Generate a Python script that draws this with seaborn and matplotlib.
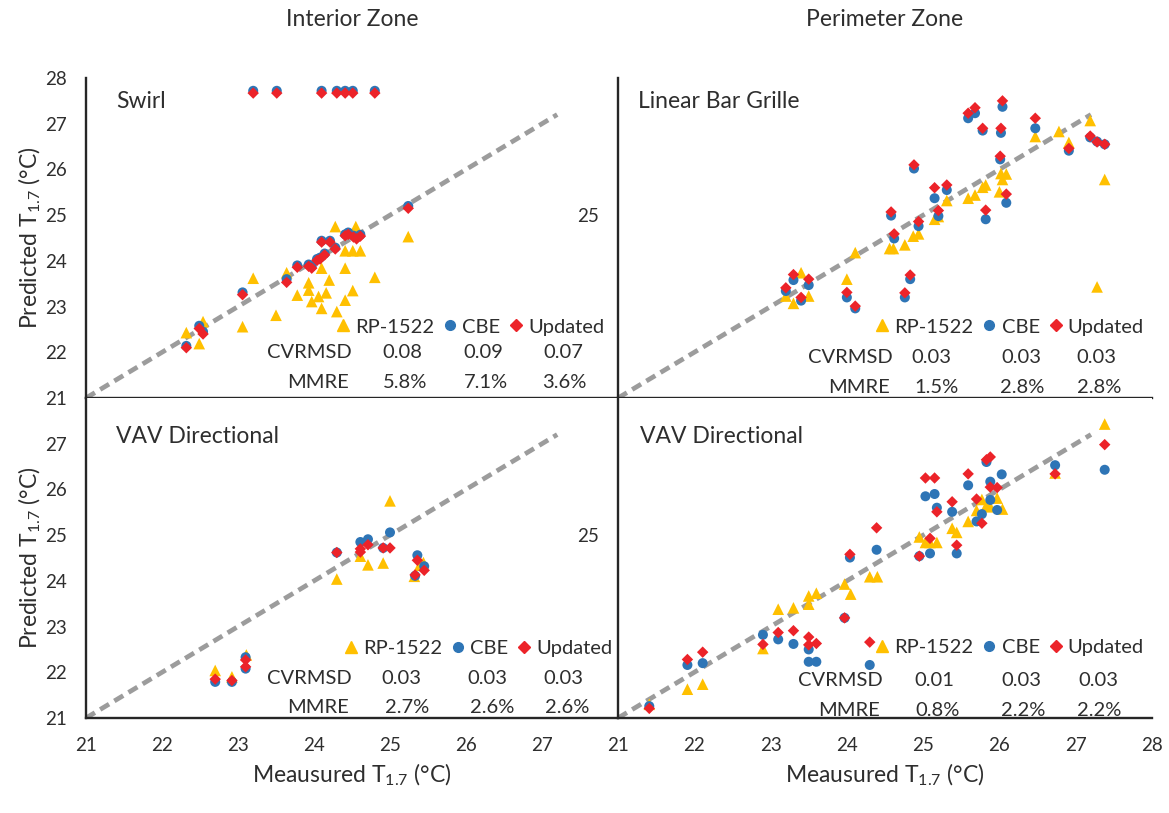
import matplotlib
matplotlib.use("Agg")
import matplotlib.pyplot as plt
from matplotlib.lines import Line2D
import pandas as pd
import seaborn as sns

# ---- values (measured vs predicted T1.7, degC) ----
series = ["RP-1522", "CBE", "Updated"]
axis_ticks = [21, 22, 23, 24, 25, 26, 27, 28]
ref_line = [21, 27.2]

# Interior zone - Swirl
swirl_rp_x = [22.32, 22.54, 22.49, 23.06, 23.20, 23.50, 23.64, 23.78, 23.93, 23.93, 23.97, 24.06, 24.10, 24.16,
              24.10, 24.20, 24.30, 24.28, 24.41, 24.41, 24.51, 24.55, 24.41, 24.51, 24.61, 24.80, 25.24]
swirl_rp_y = [22.43, 22.67, 22.19, 22.56, 23.62, 22.81, 23.74, 23.25, 23.52, 23.36, 23.11, 23.22, 22.96, 23.30,
              23.84, 23.58, 22.89, 24.75, 23.84, 23.14, 23.35, 24.75, 24.22, 24.22, 24.22, 23.64, 24.53]
swirl_cbe_x = [23.20, 23.51, 24.10, 24.30, 24.41, 24.51, 24.80, 22.32, 22.49, 22.54, 23.06, 23.64, 23.78, 23.93,
               23.97, 24.04, 24.08, 24.14, 24.28, 24.10, 24.21, 24.41, 24.45, 24.52, 24.56, 24.61, 25.24]
swirl_cbe_y = [27.72, 27.72, 27.72, 27.72, 27.72, 27.72, 27.72, 22.14, 22.58, 22.45, 23.31, 23.60, 23.90, 23.92,
               23.88, 24.04, 24.07, 24.16, 24.29, 24.44, 24.44, 24.58, 24.62, 24.55, 24.51, 24.57, 25.20]
swirl_upd_x = [23.20, 23.51, 24.10, 24.30, 24.41, 24.51, 24.80, 22.32, 22.49, 22.54, 23.06, 23.64, 23.78, 23.93,
               23.97, 24.04, 24.08, 24.14, 24.28, 24.10, 24.21, 24.41, 24.45, 24.52, 24.56, 24.61, 25.24]
swirl_upd_y = [27.67, 27.67, 27.67, 27.67, 27.67, 27.67, 27.67, 22.10, 22.52, 22.40, 23.26, 23.53, 23.86, 23.88,
               23.84, 24.01, 24.04, 24.13, 24.26, 24.41, 24.41, 24.55, 24.58, 24.52, 24.48, 24.54, 25.15]

# Perimeter zone - Linear Bar Grille
grille_rp_x = [23.20, 23.30, 23.40, 23.50, 24.00, 24.11, 24.56, 24.61, 24.76, 24.87, 24.94, 25.15, 25.20, 25.31,
               25.59, 25.68, 25.78, 25.82, 26.00, 26.02, 26.04, 26.09, 26.47, 26.78, 26.91, 27.19, 27.28, 27.38]
grille_rp_y = [23.23, 23.07, 23.74, 23.23, 23.60, 24.18, 24.27, 24.27, 24.35, 24.54, 24.59, 24.91, 24.97, 25.32,
               25.37, 25.44, 25.61, 25.66, 25.51, 25.91, 25.78, 25.90, 26.72, 26.83, 26.59, 27.07, 23.43, 25.78]
grille_cbe_x = [23.20, 23.30, 23.40, 23.50, 24.00, 24.11, 24.58, 24.62, 24.76, 24.83, 24.88, 24.94, 25.15, 25.20,
                25.31, 25.59, 25.68, 25.78, 25.82, 26.02, 26.04, 26.01, 26.09, 26.47, 26.91, 27.19, 27.28, 27.38]
grille_cbe_y = [23.34, 23.58, 23.13, 23.47, 23.20, 22.96, 24.99, 24.49, 23.20, 23.60, 26.02, 24.76, 25.37, 24.98,
                25.55, 27.12, 27.23, 26.85, 24.91, 26.80, 27.37, 26.22, 25.27, 26.90, 26.41, 26.70, 26.61, 26.55]
grille_upd_x = [23.20, 23.30, 23.40, 23.50, 24.00, 24.11, 24.58, 24.62, 24.76, 24.83, 24.88, 24.94, 25.15, 25.20,
                25.31, 25.59, 25.68, 25.78, 25.82, 26.02, 26.04, 26.01, 26.09, 26.47, 26.91, 27.19, 27.28, 27.38]
grille_upd_y = [23.41, 23.70, 23.20, 23.60, 23.31, 23.01, 25.07, 24.59, 23.30, 23.69, 26.10, 24.86, 25.60, 25.10,
                25.66, 27.23, 27.35, 26.90, 25.11, 26.90, 27.50, 26.29, 25.46, 27.12, 26.46, 26.73, 26.60, 26.55]

# Interior zone - VAV Directional
vavin_rp_x = [22.70, 22.92, 23.11, 24.30, 24.61, 24.71, 24.91, 25.00, 25.32, 25.39, 25.44]
vavin_rp_y = [22.04, 21.90, 22.38, 24.04, 24.54, 24.35, 24.39, 25.75, 24.10, 24.34, 24.40]
vavin_cbe_x = [22.70, 22.92, 23.10, 23.10, 24.30, 24.61, 24.71, 24.91, 25.00, 25.36, 25.33, 25.45]
vavin_cbe_y = [21.79, 21.79, 22.08, 22.33, 24.62, 24.85, 24.91, 24.72, 25.06, 24.56, 24.11, 24.32]
vavin_upd_x = [22.70, 22.92, 23.10, 23.10, 24.30, 24.61, 24.61, 24.71, 24.91, 25.00, 25.36, 25.33, 25.45]
vavin_upd_y = [21.85, 21.82, 22.12, 22.27, 24.62, 24.63, 24.70, 24.79, 24.72, 24.72, 24.45, 24.13, 24.23]

# Perimeter zone - VAV Directional
vavper_rp_x = [21.41, 21.91, 22.11, 22.90, 23.10, 23.30, 23.50, 23.50, 23.60, 23.97, 24.05, 24.30, 24.40, 24.95,
               25.03, 25.09, 25.18, 25.38, 25.44, 25.59, 25.70, 25.77, 25.83, 25.88, 25.97, 26.04, 26.73, 27.38]
vavper_rp_y = [21.30, 21.63, 21.74, 22.52, 23.38, 23.41, 23.49, 23.67, 23.73, 23.93, 23.71, 24.09, 24.09, 24.96,
               24.84, 24.84, 24.84, 25.15, 25.06, 25.30, 25.54, 25.78, 25.65, 25.62, 25.81, 25.57, 26.36, 27.43]
vavper_cbe_x = [21.41, 21.91, 22.11, 22.90, 23.10, 23.30, 23.50, 23.50, 23.60, 23.97, 24.04, 24.39, 24.30, 24.95,
                25.09, 25.03, 25.15, 25.18, 25.38, 25.44, 25.59, 25.70, 25.77, 25.83, 25.88, 25.88, 25.97, 26.03,
                26.73, 27.38]
vavper_cbe_y = [21.26, 22.16, 22.20, 22.82, 22.72, 22.62, 22.50, 22.23, 22.23, 23.19, 24.51, 24.68, 22.16, 24.54,
                24.60, 25.85, 25.90, 25.60, 25.51, 24.60, 26.09, 25.30, 25.46, 26.60, 26.17, 25.77, 25.55, 26.33,
                26.53, 26.43]
vavper_upd_x = [21.41, 21.91, 22.11, 22.90, 23.10, 23.30, 23.50, 23.50, 23.60, 23.97, 24.04, 24.39, 24.30, 24.95,
                25.09, 25.03, 25.15, 25.18, 25.38, 25.44, 25.59, 25.70, 25.77, 25.83, 25.88, 25.88, 25.97, 26.73,
                27.38]
vavper_upd_y = [21.21, 22.28, 22.44, 22.61, 22.87, 22.91, 22.77, 22.60, 22.63, 23.19, 24.58, 25.16, 22.66, 24.54,
                24.93, 26.25, 26.25, 25.51, 25.73, 24.78, 26.34, 25.79, 25.26, 26.65, 26.71, 26.05, 26.04, 26.34,
                26.98]

# goodness-of-fit numbers printed in each panel
swirl_cvrmsd = ["0.08", "0.09", "0.07"]
swirl_mmre = ["5.8%", "7.1%", "3.6%"]
grille_cvrmsd = ["0.03", "0.03", "0.03"]
grille_mmre = ["1.5%", "2.8%", "2.8%"]
vavin_cvrmsd = ["0.03", "0.03", "0.03"]
vavin_mmre = ["2.7%", "2.6%", "2.6%"]
vavper_cvrmsd = ["0.01", "0.03", "0.03"]
vavper_mmre = ["0.8%", "2.2%", "2.2%"]

# ---- style ----
sns.set_theme(style="white")
plt.rcParams["font.family"] = ["Lato", "DejaVu Sans"]
plt.rcParams["mathtext.fontset"] = "custom"
plt.rcParams["mathtext.rm"] = "Lato"
plt.rcParams["mathtext.default"] = "regular"

txt = "#2e2e2e"
palette = {"RP-1522": "#FFC000", "CBE": "#2E75B6", "Updated": "#EC2329"}
markers = {"RP-1522": "^", "CBE": "o", "Updated": "D"}
sizes = {"RP-1522": 70, "CBE": 52, "Updated": 34}


def panel_frame(rp_x, rp_y, cbe_x, cbe_y, upd_x, upd_y):
    parts = []
    for name, xs, ys in zip(series, [rp_x, cbe_x, upd_x], [rp_y, cbe_y, upd_y]):
        parts.append(pd.DataFrame({"Measured": xs, "Predicted": ys, "Model": name}))
    return pd.concat(parts, ignore_index=True)


panels = [
    dict(df=panel_frame(swirl_rp_x, swirl_rp_y, swirl_cbe_x, swirl_cbe_y, swirl_upd_x, swirl_upd_y),
         name="Swirl", cv=swirl_cvrmsd, mm=swirl_mmre, row=0, col=0,
         name_x=0.056, lab_x=0.50, cv_x=[0.594, 0.746, 0.897], mm_x=[0.600, 0.752, 0.900],
         leg=(0.975, 0.222), cv_y=0.141, mm_y=0.047),
    dict(df=panel_frame(grille_rp_x, grille_rp_y, grille_cbe_x, grille_cbe_y, grille_upd_x, grille_upd_y),
         name="Linear Bar Grille", cv=grille_cvrmsd, mm=grille_mmre, row=0, col=1,
         name_x=0.037, lab_x=0.515, cv_x=[0.586, 0.755, 0.895], mm_x=[0.596, 0.757, 0.901],
         leg=(0.985, 0.222), cv_y=0.128, mm_y=0.034),
    dict(df=panel_frame(vavin_rp_x, vavin_rp_y, vavin_cbe_x, vavin_cbe_y, vavin_upd_x, vavin_upd_y),
         name="VAV Directional", cv=vavin_cvrmsd, mm=vavin_mmre, row=1, col=0,
         name_x=0.056, lab_x=0.50, cv_x=[0.593, 0.755, 0.897], mm_x=[0.603, 0.764, 0.904],
         leg=(0.99, 0.216), cv_y=0.123, mm_y=0.033),
    dict(df=panel_frame(vavper_rp_x, vavper_rp_y, vavper_cbe_x, vavper_cbe_y, vavper_upd_x, vavper_upd_y),
         name="VAV Directional", cv=vavper_cvrmsd, mm=vavper_mmre, row=1, col=1,
         name_x=0.042, lab_x=0.496, cv_x=[0.592, 0.755, 0.899], mm_x=[0.598, 0.758, 0.902],
         leg=(0.985, 0.219), cv_y=0.116, mm_y=0.025),
]

W, H = 1169, 813
fig = plt.figure(figsize=(W / 100, H / 100), dpi=100)
col_left = [86, 618]
col_width = [532, 534]
row_top = [78, 398]
row_height = 320

for p in panels:
    r, c = p["row"], p["col"]
    ax = fig.add_axes([col_left[c] / W, (H - row_top[r] - row_height) / H,
                       col_width[c] / W, row_height / H])

    ax.plot(ref_line, ref_line, color="#9C9C9C", lw=3.4, dashes=(2.2, 1.3), zorder=2)
    sns.scatterplot(data=p["df"], x="Measured", y="Predicted", hue="Model", style="Model",
                    size="Model", hue_order=series, style_order=series, size_order=series,
                    palette=palette, markers=markers, sizes=sizes, linewidth=0,
                    legend=False, ax=ax, zorder=3)

    ax.set_xlim(21, 28)
    ax.set_ylim(21, 28)
    ax.set_xticks(axis_ticks)
    ax.set_yticks(axis_ticks)
    for side in ["top", "right"]:
        ax.spines[side].set_visible(False)
    for side in ["left", "bottom"]:
        ax.spines[side].set_linewidth(1.7)
        ax.spines[side].set_color("#262626")
    ax.tick_params(direction="out", length=4, width=1.6, color="#262626",
                   labelsize=13.5, labelcolor=txt, pad=10)

    # tick labels as in the reference
    if r == 0:
        ax.set_xticklabels([])
    elif c == 0:
        ax.set_xticklabels([str(t) if t < 28 else "" for t in axis_ticks])
    else:
        ax.set_xticklabels([str(t) for t in axis_ticks])
    if c == 1:
        ax.set_yticklabels([str(t) if t == 25 else "" for t in axis_ticks])
    elif r == 1:
        ax.set_yticklabels([str(t) if t < 28 else "" for t in axis_ticks])
    else:
        ax.set_yticklabels([str(t) for t in axis_ticks])

    ax.set_xlabel("Meausured T$_{1.7}$ (°C)" if r == 1 else "", fontsize=16.5, color=txt, labelpad=5)
    ax.set_ylabel("Predicted T$_{1.7}$ (°C)" if c == 0 else "", fontsize=16.5, color=txt, labelpad=1)

    ax.text(p["name_x"], 0.925 if r == 0 else 0.881, p["name"], transform=ax.transAxes,
            fontsize=16.5, color=txt, ha="left", va="center")
    if r == 0:
        ax.text(0.5, 1 + 58 / row_height, "Interior Zone" if c == 0 else "Perimeter Zone",
                transform=ax.transAxes, fontsize=16.5, color=txt, ha="center", va="center")

    # legend and statistics block
    handles = [Line2D([], [], ls="", marker=markers[s], color=palette[s],
                      markersize={"RP-1522": 8.5, "CBE": 7, "Updated": 6}[s]) for s in series]
    ax.legend(handles, series, ncol=3, loc="center right", bbox_to_anchor=p["leg"],
              frameon=False, fontsize=14.5, handlelength=0.7, handletextpad=0.25,
              columnspacing=0.45, borderpad=0, borderaxespad=0, labelcolor=txt)
    ax.text(p["lab_x"], p["cv_y"], "CVRMSD", transform=ax.transAxes, fontsize=14.5,
            color=txt, ha="right", va="center")
    ax.text(p["lab_x"] - 0.006, p["mm_y"], "MMRE", transform=ax.transAxes, fontsize=14.5,
            color=txt, ha="right", va="center")
    for xv, v in zip(p["cv_x"], p["cv"]):
        ax.text(xv, p["cv_y"], v, transform=ax.transAxes, fontsize=14.5, color=txt,
                ha="center", va="center")
    for xv, v in zip(p["mm_x"], p["mm"]):
        ax.text(xv, p["mm_y"], v, transform=ax.transAxes, fontsize=14.5, color=txt,
                ha="center", va="center")

fig.savefig("out.png", dpi=100)
